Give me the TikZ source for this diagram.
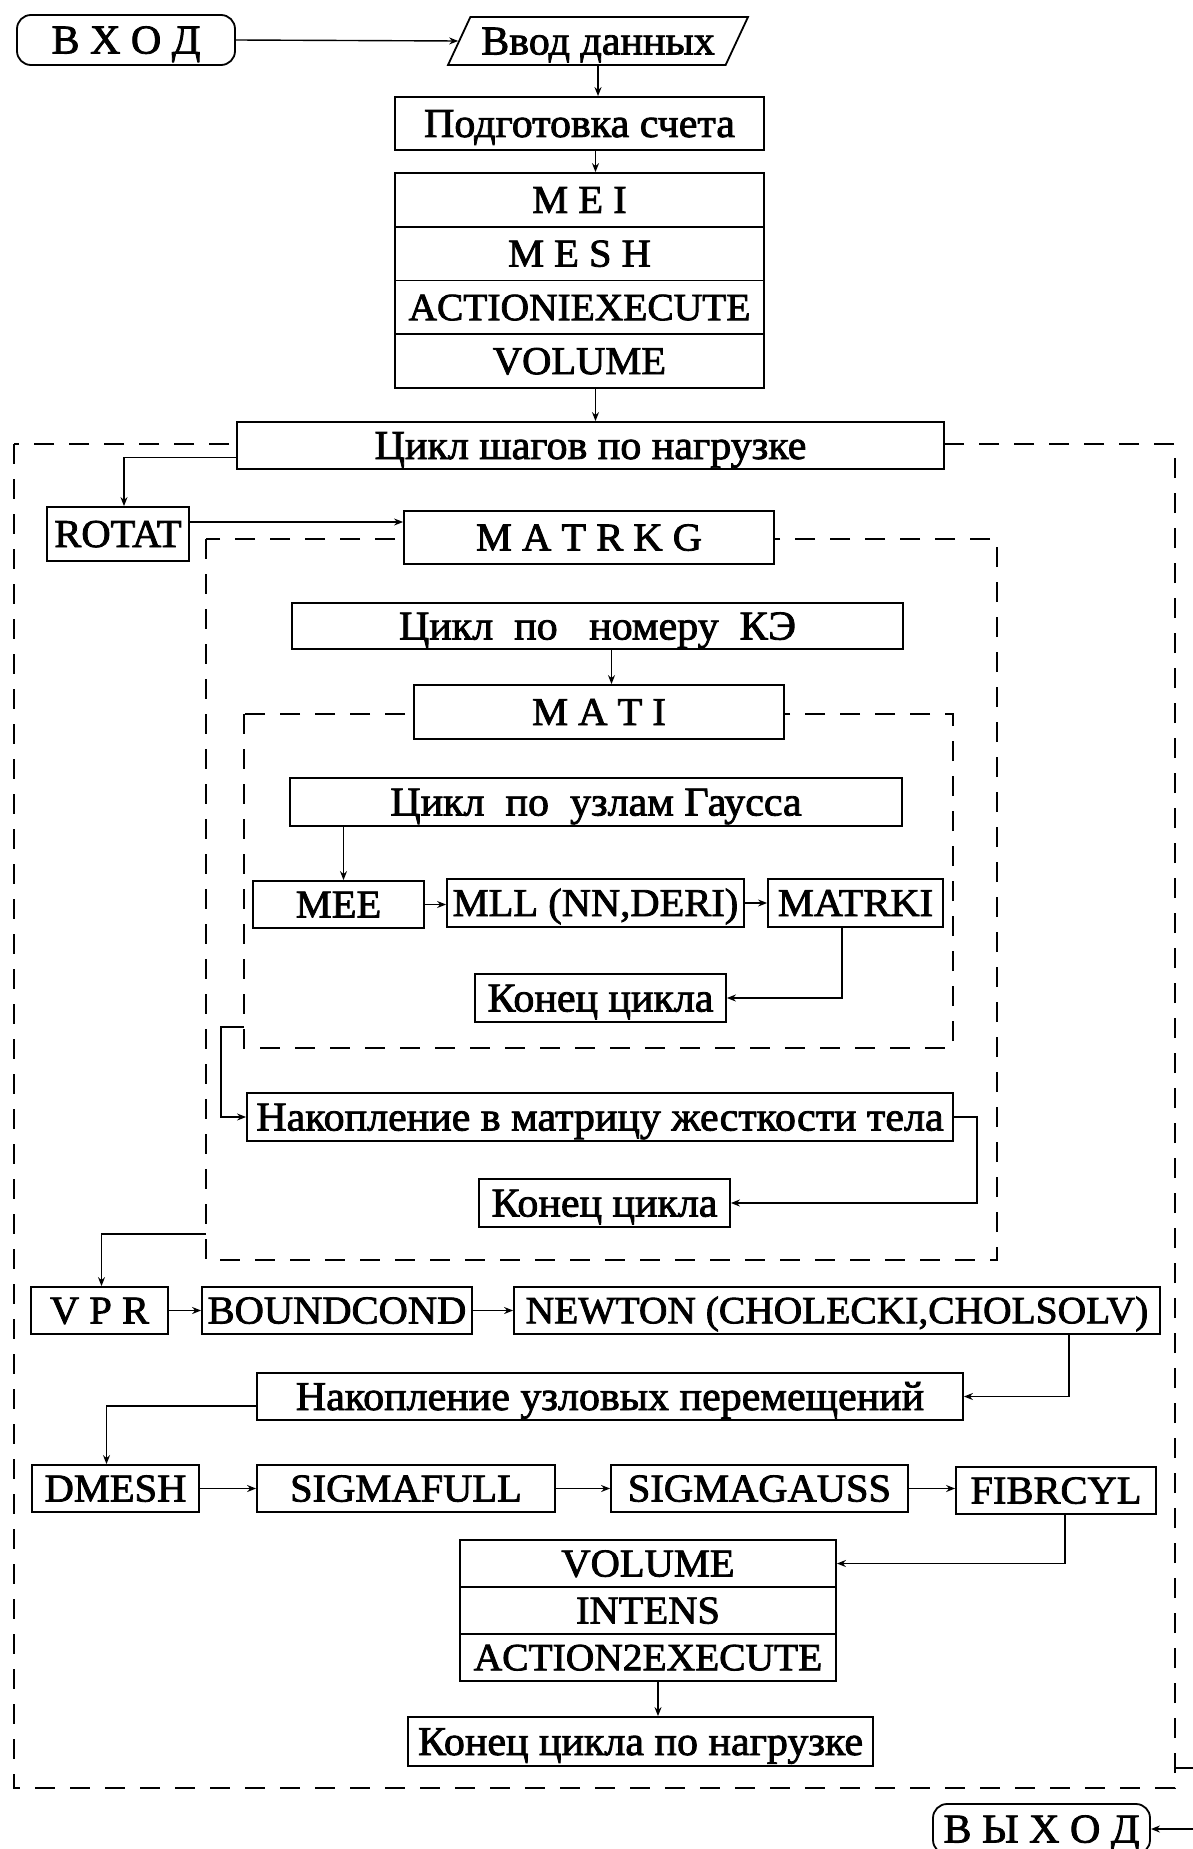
\documentclass[tikz,border=0pt]{standalone}
\usepackage{fontspec}
\setmainfont{Liberation Serif}[FakeStretch=1.025,FakeBold=2.0]
\usetikzlibrary{shapes.geometric,arrows.meta}
\begin{document}
\begin{tikzpicture}[x=1pt,y=-1pt,
  every node/.style={font=\fontsize{41}{46}\selectfont, inner sep=0pt, text height=27pt, text depth=0pt},
  capfont/.style={font=\fontsize{39.5}{44}\selectfont, text height=26pt},
  capnfont/.style={font=\fontsize{38.5}{44}\selectfont, text height=25.5pt},
  bx/.style={draw, line width=1.8pt, fill=white, minimum height=48pt},
  rbox/.style={bx, rounded corners=14pt},
  para/.style={draw, line width=1.8pt, fill=white, trapezium, trapezium left angle=65,
     trapezium right angle=115, trapezium stretches body=true, inner ysep=10.5pt},
  arr/.style={line width=1.4pt, -{Stealth[length=9pt,width=7pt]}},
  dsh/.style={line width=1.5pt, dash pattern=on 20pt off 15pt}
]
\useasboundingbox (0,0) rectangle (1192,1849);

% dashed loop frames
\draw[dsh] (14,444) rectangle (1175,1788);
\draw[dsh] (206,539) rectangle (997,1260);
\draw[dsh] (244,714) rectangle (953,1048);
\coordinate (outR) at (1175,1768);
\coordinate (matrkgL) at (206,1234);
\coordinate (matiL) at (244,1027);

% top
\node[rbox, minimum width=218pt, minimum height=50pt] (vhod) at (126,40) {В Х О Д};
\node[para, minimum width=300pt] (vvod) at (598,41) {Ввод данных};
\node[bx, minimum width=369pt, minimum height=53pt] (podg) at (579.5,123.5) {Подготовка счета};
\node[bx, capfont, minimum width=369pt, minimum height=53.75pt] (mei) at (579.5,199.9) {M E I};
\node[bx, capfont, minimum width=369pt, minimum height=53.75pt] (mesh) at (579.5,253.6) {M E S H};
\node[bx, capnfont, minimum width=369pt, minimum height=53.75pt] (act1) at (579.5,307.4) {ACTIONIEXECUTE};
\node[bx, capfont, minimum width=369pt, minimum height=53.75pt] (vol1) at (579.5,361.1) {VOLUME};

% load-step loop
\node[bx, minimum width=707pt, minimum height=47pt] (cikl) at (590.5,445.5) {Цикл шагов по нагрузке};
\node[bx, capfont, minimum width=142pt, minimum height=54pt] (rotat) at (118,534) {ROTAT};
\node[bx, capfont, minimum width=370pt, minimum height=53pt] (matrkg) at (589,537.5) {M A T R K G};
\node[bx, minimum width=611pt, minimum height=46pt] (nomer) at (597.5,626) {Цикл~~по~~~номеру~~КЭ};
\node[bx, capfont, minimum width=370pt, minimum height=54pt] (mati) at (599,712) {M A T I};
\node[bx, minimum width=612pt, minimum height=48pt] (gauss) at (596,802) {Цикл~~по~~узлам Гаусса};
\node[bx, capfont, minimum width=171pt, minimum height=47pt] (mee) at (338.5,904.5) {MEE};
\node[bx, capfont, minimum width=297pt, minimum height=48pt] (mll) at (595.5,903) {MLL (NN,DERI)};
\node[bx, capfont, minimum width=175pt, minimum height=48pt] (matrki) at (855.5,903) {MATRKI};
\node[bx, minimum width=251pt, minimum height=48pt] (kon1) at (600.5,998) {Конец цикла};
\node[bx, minimum width=706pt, minimum height=48pt] (nak1) at (600,1117) {Накопление в матрицу жесткости тела};
\node[bx, minimum width=251pt, minimum height=48pt] (kon2) at (604.5,1203) {Конец цикла};
\node[bx, capfont, minimum width=137pt, minimum height=47pt] (vpr) at (99.5,1310.5) {V P R};
\node[bx, capfont, minimum width=270pt, minimum height=47pt] (bound) at (337,1310.5) {BOUNDCOND};
\node[bx, capnfont, minimum width=646pt, minimum height=47pt] (newton) at (837,1310.5) {NEWTON (CHOLECKI,CHOLSOLV)};
\node[bx, minimum width=706pt, minimum height=47pt] (nak2) at (610,1396.5) {Накопление узловых перемещений};
\node[bx, capfont, minimum width=167pt, minimum height=47pt] (dmesh) at (115.5,1488.5) {DMESH};
\node[bx, capfont, minimum width=298pt, minimum height=47pt] (sfull) at (406,1488.5) {SIGMAFULL};
\node[bx, capfont, minimum width=297pt, minimum height=47pt] (sgauss) at (759.5,1488.5) {SIGMAGAUSS};
\node[bx, capfont, minimum width=200pt, minimum height=47pt] (fibr) at (1056,1490.5) {FIBRCYL};
\node[bx, capfont, minimum width=376pt, minimum height=47pt] (vol2) at (648,1563.5) {VOLUME};
\node[bx, capfont, minimum width=376pt, minimum height=47pt] (intens) at (648,1610.5) {INTENS};
\node[bx, capnfont, minimum width=376pt, minimum height=47pt] (act2) at (648,1657.5) {ACTION2EXECUTE};
\node[bx, minimum width=465pt, minimum height=49pt] (konN) at (640.5,1741.5) {Конец цикла по нагрузке};
\node[rbox, minimum width=217pt, minimum height=50pt] (vyhod) at (1041.5,1829) {В Ы Х О Д};

% connectors
\draw[arr] (vhod.east) -- (vvod.west);
\draw[arr] (vvod.south) -- (vvod.south |- podg.north);
\draw[arr] ([xshift=16pt]podg.south) -- ([xshift=16pt]podg.south |- mei.north);
\draw[arr] ([xshift=16pt]vol1.south) -- ([xshift=16pt]vol1.south |- cikl.north);
\draw[arr] ([yshift=-12pt]cikl.west) -| ([xshift=6pt]rotat.north);
\draw[arr] ([yshift=12pt]rotat.east) -- ([yshift=12pt]rotat.east -| matrkg.west);
\draw[arr] ([xshift=14pt]nomer.south) -- ([xshift=14pt]nomer.south |- mati.north);
\draw[arr] ([xshift=5pt]mee.north |- gauss.south) -- ([xshift=5pt]mee.north);
\draw[arr] (mee.east) -- (mee.east -| mll.west);
\draw[arr] (mll.east) -- (matrki.west);
\draw[arr] ([xshift=-13.5pt]matrki.south) |- (kon1.east);
\draw[arr] (matiL) -- ++(-23,0) |- (nak1.west);
\draw[arr] (nak1.east) -- ++(23,0) |- (kon2.east);
\draw[arr] (matrkgL) -| ([xshift=2pt]vpr.north);
\draw[arr] (vpr.east) -- (bound.west);
\draw[arr] (bound.east) -- (newton.west);
\draw[arr] ([xshift=232pt]newton.south) |- (nak2.east);
\draw[arr] ([yshift=-9.5pt]nak2.west) -| ([xshift=-9pt]dmesh.north);
\draw[arr] (dmesh.east) -- (sfull.west);
\draw[arr] (sfull.east) -- (sgauss.west);
\draw[arr] (sgauss.east) -- (sgauss.east -| fibr.west);
\draw[arr] ([xshift=9pt]fibr.south) |- (vol2.east);
\draw[arr] ([xshift=10pt]act2.south) -- ([xshift=10pt]act2.south |- konN.north);
\draw[arr] (outR) -- ++(30,0) |- (vyhod.east);
\end{tikzpicture}
\end{document}
